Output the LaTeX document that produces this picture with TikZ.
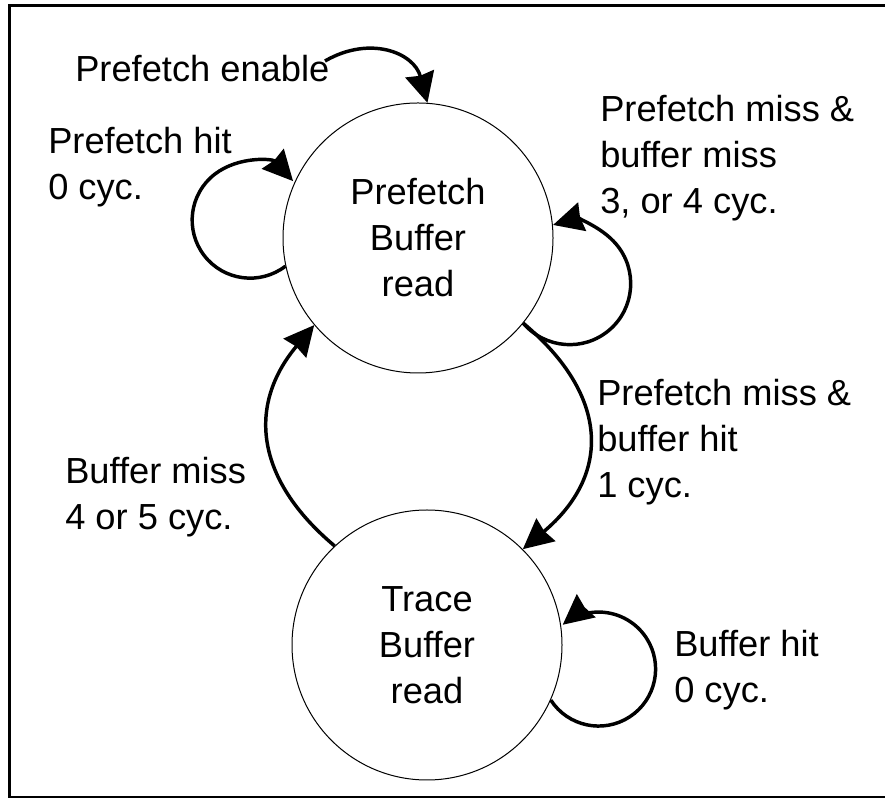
\documentclass[tikz,border=0pt]{standalone}
\usepackage{fontspec}
\setmainfont{Liberation Sans}
\usetikzlibrary{arrows.meta}
\begin{document}
\begin{tikzpicture}[x=0.75pt,y=0.75pt,
  txt/.style={font=\fontsize{27.2pt}{34.5pt}\selectfont},
  lbl/.style={txt, align=left, anchor=base west, inner sep=0pt},
  state/.style={circle, draw, line width=0.75pt, minimum size=202.5pt, inner sep=0pt,
    txt, align=center},
  arr/.style={line width=2.6pt, -{Stealth[length=22.5pt, width=22pt, inset=1.5pt]}}]
\useasboundingbox (0,0) rectangle (885,799);
% frame
\draw[line width=2pt] (892,793.7) -- (9.5,793.7) -- (9.5,2) -- (892,2);
% states
\node[state] (T) at (418,561) {Prefetch\\Buffer\\read};
\node[state] (B) at (427,154) {Trace\\Buffer\\read};
% entry
\coordinate (pe) at (325,738);
\draw[arr] (pe) to[out=30, in=105, looseness=1.2] (T.86);
% transitions
\draw[arr] (T.192.5) arc[start angle=307.5, end angle=42.3, radius=58];
\draw[arr] (T.-39) arc[start angle=220.5, end angle=465.8, radius=61];
\draw[arr] (T.-39) to[out=-40, in=40, looseness=1.29] (B.45);
\draw[arr] (B.133) to[out=140, in=230, looseness=1.2] (T.220);
\draw[arr] (B.-24.4) arc[start angle=213, end angle=489, radius=57];
% labels (anchored at the baseline of their last line)
\node[lbl] (l1) at (75,717) {Prefetch enable};
\node[lbl] (l2) at (48,599) {Prefetch hit\\0 cyc.};
\node[lbl] (l3) at (600,585) {Prefetch miss \&\\buffer miss\\3, or 4 cyc.};
\node[lbl] (l4) at (597,301) {Prefetch miss \&\\buffer hit\\1 cyc.};
\node[lbl] (l5) at (65,269) {Buffer miss\\4 or 5 cyc.};
\node[lbl] (l6) at (674,96) {Buffer hit\\0 cyc.};
\end{tikzpicture}
\end{document}
